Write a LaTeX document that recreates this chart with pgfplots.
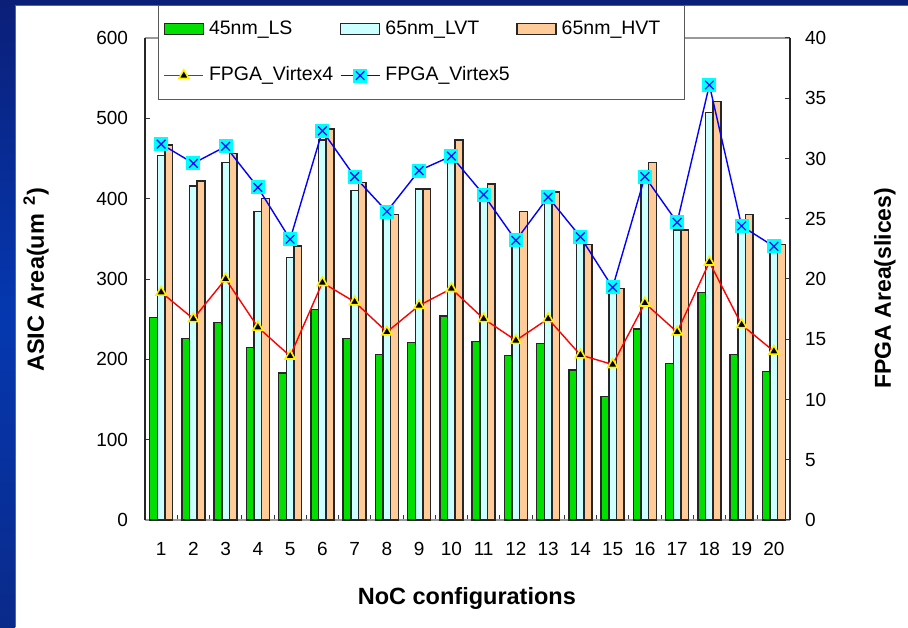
\documentclass[border=0pt]{standalone}
\usepackage{fontspec}
\setmainfont{Liberation Sans}
\usepackage{pgfplots}
\usepackage{pgfplotstable}
\pgfplotsset{compat=1.18}
\definecolor{bargreen}{HTML}{00E000}
\definecolor{barcyan}{HTML}{CCFFFF}
\definecolor{barpeach}{HTML}{FFCC99}
\definecolor{navyA}{HTML}{0B1F78}
\definecolor{navyB}{HTML}{0538B0}
\definecolor{navyC}{HTML}{0A2A8A}
\definecolor{mkcyan}{HTML}{00FFFF}
\pgfdeclareplotmark{sqx}{%
  \pgfpathrectangle{\pgfpoint{-7pt}{-7pt}}{\pgfpoint{14pt}{14pt}}%
  \pgfsetfillcolor{mkcyan}\pgfusepath{fill}%
  \pgfpathmoveto{\pgfpoint{-4.3pt}{-4.3pt}}\pgfpathlineto{\pgfpoint{4.3pt}{4.3pt}}%
  \pgfpathmoveto{\pgfpoint{-4.3pt}{4.3pt}}\pgfpathlineto{\pgfpoint{4.3pt}{-4.3pt}}%
  \pgfsetstrokecolor{blue}\pgfsetlinewidth{1.2pt}\pgfusepath{stroke}%
}
\pgfplotsset{
  linelegend/.style={legend image code/.code={\draw[mark repeat=2,mark phase=2,##1] plot coordinates {(0pt,0pt) (19.5pt,0pt) (39pt,0pt)};}},
}
\pgfplotstableread{
x ls lvt hvt v4 v5
1 252 454 467 18.9 31.2
2 226 416 422 16.7 29.6
3 246 445 456 20.0 31.0
4 215 384 400 16.0 27.6
5 183 327 341 13.6 23.3
6 262 473 487 19.7 32.3
7 226 410 420 18.1 28.5
8 206 385 380 15.6 25.6
9 221 412 412 17.8 29.0
10 254 455 473 19.2 30.2
11 222 405 418 16.7 27.0
12 205 345 384 14.9 23.2
13 220 402 408 16.7 26.8
14 187 350 343 13.7 23.5
15 154 288 288 12.9 19.3
16 238 427 445 18.0 28.5
17 195 361 361 15.6 24.7
18 283 507 521 21.4 36.1
19 206 372 380 16.2 24.4
20 185 343 343 14.0 22.7
}\datatable
\begin{document}
\begin{tikzpicture}
\useasboundingbox (0,0) rectangle (908pt,627pt);
\fill[white] (0,0) rectangle (908pt,627pt);
\shade[top color=navyA, bottom color=navyC, middle color=navyB] (0,0) rectangle (15pt,627pt);
\fill[navyA] (0,622pt) rectangle (908pt,627pt);
\draw[black!60, line width=0.8pt] (15pt,0) -- (15pt,622pt) -- (908pt,622pt);
\begin{axis}[
  at={(145pt,107pt)}, anchor=south west,
  scale only axis, width=645pt, height=482pt,
  xmin=0.5, xmax=20.5, ymin=0, ymax=600,
  ybar=0pt, bar width=7.7pt,
  xtick={1,...,20},
  minor xtick={1.5,2.5,...,19.5},
  major x tick style={draw=none},
  ytick={0,100,...,600},
  xtick pos=bottom, ytick pos=left,
  tick align=inside,
  major tick length=5pt, minor tick length=5pt,
  tick style={black!80, line width=1pt},
  separate axis lines,
  x axis line style={gray!80, line width=1.3pt},
  y axis line style={black!85, line width=1.3pt},
  /pgf/number format/assume math mode=true,
  tick label style={font=\fontsize{19}{22}\selectfont},
  xticklabel shift=18.5pt,
  yticklabel shift=13.5pt,
  xlabel={NoC configurations},
  xlabel style={at={(axis description cs:0.499,-0.163)}, anchor=center, font=\fontsize{23.5}{28}\selectfont\bfseries},
  ylabel={ASIC Area(um\hspace{0.35em}\textsuperscript{2})},
  ylabel style={at={(axis description cs:-0.169,0.498)}, anchor=center, font=\fontsize{23.5}{28}\selectfont\bfseries},
]
\addplot[fill=bargreen, draw=black!85, line width=1.5pt] table[x=x,y=ls]{\datatable};
\addplot[fill=barcyan, draw=black!85, line width=1.5pt] table[x=x,y=lvt]{\datatable};
\addplot[fill=barpeach, draw=black!85, line width=1.5pt] table[x=x,y=hvt]{\datatable};
\node[rotate=90, font=\fontsize{17}{20}\selectfont] at (axis description cs:-0.113,0.948) {x 10\textsuperscript{3}};
\end{axis}
\begin{axis}[
  at={(145pt,107pt)}, anchor=south west,
  scale only axis, width=645pt, height=482pt,
  xmin=0.5, xmax=20.5, ymin=0, ymax=40,
  hide x axis,
  axis y line*=right,
  ytick={0,5,...,40},
  tick align=inside,
  major tick length=5pt,
  tick style={black!80, line width=1pt},
  y axis line style={black!85, line width=1.3pt},
  /pgf/number format/assume math mode=true,
  tick label style={font=\fontsize{19}{22}\selectfont},
  yticklabel shift=11.5pt,
  ylabel={FPGA Area(slices)},
  ylabel style={at={(axis description cs:1.147,0.481)}, anchor=center, rotate=0, font=\fontsize{23}{28}\selectfont\bfseries},
  legend columns=3,
  legend cell align=left,
  legend style={at={(0.0202,1.0685)}, anchor=north west,
    draw=gray!70!black, line width=1.2pt, fill=white,
    font=\fontsize{19.5}{23}\selectfont,
    inner xsep=5pt, inner ysep=14.5pt,
    row sep=27pt, column sep=0pt,
    nodes={inner sep=0pt, text height=14pt, text depth=5pt}},
]
\addlegendimage{legend image code/.code={\draw[fill=bargreen,draw=black!85,line width=1.3pt] (0pt,-5pt) rectangle (39pt,6pt);}}
\addlegendentry{\hspace{5pt}\makebox[131pt][l]{45nm\_LS}}
\addlegendimage{legend image code/.code={\draw[fill=barcyan,draw=black!85,line width=1.3pt] (0pt,-5pt) rectangle (39pt,6pt);}}
\addlegendentry{\hspace{5pt}\makebox[131pt][l]{65nm\_LVT}}
\addlegendimage{legend image code/.code={\draw[fill=barpeach,draw=black!85,line width=1.3pt] (0pt,-5pt) rectangle (39pt,6pt);}}
\addlegendentry{\hspace{5pt}\makebox[118pt][l]{65nm\_HVT}}
\addplot[red, line width=1.4pt, mark=triangle*, mark size=5.8pt, mark options={fill=black, draw=yellow, line width=1.6pt, solid}, linelegend] table[x=x,y=v4]{\datatable};
\addlegendentry{\hspace{5pt}\makebox[131pt][l]{FPGA\_Virtex4}}
\addplot[blue, line width=1.4pt, mark=sqx, linelegend] table[x=x,y=v5]{\datatable};
\addlegendentry{\hspace{5pt}\makebox[131pt][l]{FPGA\_Virtex5}}
\node[rotate=90, font=\fontsize{17}{20}\selectfont] at (axis description cs:1.0915,0.946) {x 10\textsuperscript{3}};
\end{axis}
\end{tikzpicture}
\end{document}
